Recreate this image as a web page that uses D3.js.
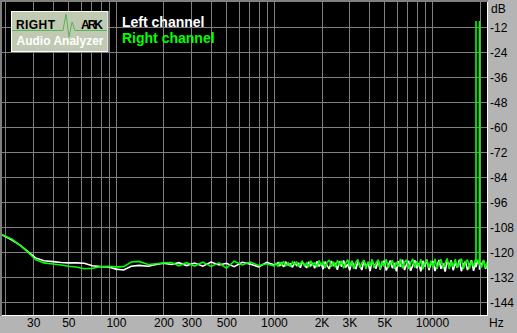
<!DOCTYPE html>
<html>
<head>
<meta charset="utf-8">
<script src="https://cdn.jsdelivr.net/npm/d3@7"></script>
<style>
  html, body { margin: 0; padding: 0; background: #b4b4b4; }
  svg { display: block; }
  text { font-family: "Liberation Sans", Arial, sans-serif; }
</style>
</head>
<body>
<div id="chart-area"></div>
<script>
// x grid (Hz) and labelled ticks
const gridFreqs = [20, 30, 40, 50, 60, 70, 80, 90, 100, 200, 300, 400, 500, 600, 700, 800, 900,
  1000, 2000, 3000, 4000, 5000, 6000, 7000, 8000, 9000, 10000, 20000];
const xTicks = [30, 50, 100, 200, 300, 500, 1000, 2000, 3000, 5000, 10000];
const xTickLabels = ["30", "50", "100", "200", "300", "500", "1000", "2K", "3K", "5K", "10000"];
const yTicks = [-12, -24, -36, -48, -60, -72, -84, -96, -108, -120, -132, -144];

// measurement points (Hz)
const freqs = [19, 22, 25, 28, 31, 35, 40, 45, 50, 56, 63, 71, 80, 90, 100, 112, 125, 140, 160, 180, 200,
  225, 250, 280, 315, 355, 400, 450, 500, 560, 630, 710, 800, 900, 1000,
  1030, 1060, 1090, 1120, 1150, 1190, 1230, 1270, 1310, 1350,
  1390, 1430, 1470, 1510, 1560, 1610, 1660, 1710, 1760, 1810,
  1870, 1930, 1990, 2050, 2110, 2170, 2240, 2310, 2380, 2450,
  2520, 2600, 2680, 2760, 2840, 2930, 3020, 3110, 3200, 3300,
  3400, 3500, 3600, 3710, 3820, 3940, 4060, 4180, 4300, 4430,
  4570, 4700, 4840, 4990, 5140, 5290, 5450, 5620, 5790, 5960,
  6140, 6320, 6510, 6710, 6910, 7120, 7330, 7550, 7780, 8010,
  8250, 8500, 8750, 9020, 9290, 9570, 9850, 10150, 10450, 10770,
  11090, 11420, 11770, 12120, 12480, 12860, 13240, 13640, 14050, 14470,
  14910, 15350, 15810, 16290, 16780, 17280, 17800, 18330, 18880,
  18990, 19000, 19010, 19450, 19990, 20000, 20010, 20600, 21220, 21850, 22400];

// left channel (dB)
const leftDb = [-111.6, -114.0, -116.7, -119.8, -122.6, -124.0, -124.4, -124.8, -125.0, -125.0, -125.2, -126.4, -126.8, -127.0, -128.0, -128.4, -126.6, -126.2, -126.6, -125.8, -125.2,
  -125.8, -124.9, -126.3, -125.1, -126.6, -124.6, -126.0, -125.2, -126.8, -124.7, -125.6, -126.9, -124.8, -125.9,
  -125.8, -124.9, -126.3, -125.2, -126.9, -124.7, -126.0, -125.4, -127.1, -124.9,
  -126.2, -125.0, -127.3, -124.6, -125.9, -127.4, -124.5, -126.4, -125.1, -127.6,
  -124.3, -126.7, -125.2, -128.0, -124.4, -126.3, -127.9, -124.1, -126.5, -125.0,
  -128.3, -124.2, -126.8, -123.9, -127.2, -125.5, -128.6, -124.0, -126.1, -127.9,
  -124.3, -126.4, -128.4, -123.8, -126.7, -125.2, -128.9, -124.1, -126.0, -127.7,
  -123.6, -128.2, -125.4, -124.0, -128.7, -126.1, -123.9, -127.5, -125.0, -129.0,
  -124.2, -126.9, -123.5, -128.4, -125.6, -124.1, -128.8, -126.3, -123.7, -127.6,
  -125.1, -129.1, -124.0, -126.8, -123.4, -128.5, -125.7, -124.2, -128.9, -126.0,
  -123.6, -127.8, -125.3, -129.2, -124.1, -126.5, -123.8, -128.6, -125.0, -127.3,
  -123.5, -129.0, -125.8, -124.3, -128.4, -126.2, -123.7, -128.8, -125.2,
  -126.0, -126.9, -127.0, -124.0, -125.0, -128.3, -126.4, -125.5, -123.9, -127.9, -125.1];

// right channel (dB)
const rightDb = [-111.4, -113.6, -116.8, -120.2, -123.4, -125.0, -125.5, -126.0, -126.6, -127.0, -127.8, -127.6, -126.8, -126.6, -126.9, -126.8, -124.6, -124.3, -125.8, -125.4, -125.0,
  -124.8, -126.4, -124.9, -126.5, -124.6, -126.7, -125.0, -127.6, -124.2, -126.0, -124.6, -126.3, -125.4, -126.5,
  -125.2, -126.6, -124.8, -125.9, -124.3, -126.4, -125.0, -126.8, -124.6, -125.7,
  -124.4, -126.9, -125.3, -124.2, -126.5, -125.1, -127.0, -124.0, -126.2, -124.8,
  -127.1, -123.9, -126.0, -124.3, -127.4, -124.8, -123.6, -126.8, -124.5, -127.2,
  -123.8, -126.1, -124.0, -127.6, -125.2, -123.5, -126.9, -124.2, -127.8, -124.6,
  -123.4, -127.3, -125.0, -123.7, -127.9, -124.4, -126.6, -123.3, -127.5, -124.9,
  -123.6, -127.8, -124.1, -126.9, -123.2, -127.4, -125.3, -123.8, -128.0, -124.5,
  -126.8, -123.1, -127.6, -124.7, -123.5, -127.9, -125.1, -123.0, -127.3, -124.2,
  -126.7, -123.3, -128.1, -124.8, -123.6, -127.5, -124.0, -126.9, -123.1, -127.8,
  -124.6, -123.4, -127.6, -125.2, -122.9, -127.9, -124.3, -126.8, -123.2, -127.4,
  -124.9, -123.0, -128.0, -124.5, -123.5, -127.7, -124.1, -126.6, -123.3,
  -125.0, -9.0, -124.2, -123.8, -126.0, -9.0, -125.5, -127.2, -123.6, -127.5, -124.4];

const chartSize = { width: 517, height: 333 };
const plot = { left: 2.3, right: 487.3, top: 2.3, bottom: 315 };

const svg = d3.select("#chart-area").append("svg")
  .attr("width", chartSize.width)
  .attr("height", chartSize.height);

const x = d3.scaleLog().domain([19.1, 22400]).range([plot.left, plot.right]);
const y = d3.scaleLinear().domain([-150, 0]).range([plot.bottom, plot.top]);

// frame
svg.append("rect").attr("x", 0).attr("y", 0).attr("width", chartSize.width).attr("height", chartSize.height).attr("fill", "#b4b4b4");
svg.append("rect").attr("x", 0).attr("y", 0).attr("width", 488).attr("height", 316).attr("fill", "#808080");
svg.append("rect").attr("x", 2).attr("y", 2).attr("width", 486).attr("height", 314).attr("fill", "#ffffff");
svg.append("rect").attr("x", 2).attr("y", 2).attr("width", 485).attr("height", 313).attr("fill", "#000000");

svg.append("defs").append("clipPath").attr("id", "clip")
  .append("rect").attr("x", 2).attr("y", 2).attr("width", 485).attr("height", 313);

const grid = svg.append("g").attr("class", "grid").attr("stroke", "#808080").attr("stroke-width", 1);
grid.selectAll(".vline").data(gridFreqs).join("line")
  .attr("x1", d => Math.round(x(d)) + 0.5).attr("x2", d => Math.round(x(d)) + 0.5)
  .attr("y1", 2).attr("y2", 315);
grid.selectAll(".hline").data(yTicks).join("line")
  .attr("y1", d => Math.round(y(d)) + 0.5).attr("y2", d => Math.round(y(d)) + 0.5)
  .attr("x1", 2).attr("x2", 487);

// curves
const line = d3.line().x((d, i) => x(freqs[i])).y(d => y(d));
const curves = svg.append("g").attr("clip-path", "url(#clip)").attr("fill", "none")
  .attr("stroke-width", 1.6).attr("stroke-linejoin", "miter").attr("stroke-miterlimit", 2);
curves.append("path").attr("d", line(leftDb)).attr("stroke", "#ffffff");
curves.append("path").attr("d", line(rightDb)).attr("stroke", "#00ff00");

// axes
const xAxis = d3.axisBottom(x).tickValues(xTicks).tickFormat((d, i) => xTickLabels[i]).tickSize(0).tickPadding(0);
svg.append("g").attr("transform", `translate(0, 318)`).call(xAxis)
  .call(g => g.select(".domain").remove())
  .selectAll("text").attr("font-size", 12).attr("fill", "#000").attr("dy", "0.71em")
  .attr("font-family", "Liberation Sans, Arial, sans-serif");

const yAxis = d3.axisRight(y).tickValues(yTicks).tickFormat(d => d).tickSize(0).tickPadding(0);
svg.append("g").attr("transform", `translate(490, 0)`).call(yAxis)
  .call(g => g.select(".domain").remove())
  .selectAll("text").attr("font-size", 12).attr("fill", "#000")
  .attr("font-family", "Liberation Sans, Arial, sans-serif");

svg.append("text").attr("x", 491).attr("y", 13).attr("font-size", 12).attr("fill", "#000").text("dB");
svg.append("text").attr("x", 489).attr("y", 327).attr("font-size", 12).attr("fill", "#000").text("Hz");

// legend
svg.append("text").attr("x", 122).attr("y", 27).attr("font-size", 14).attr("font-weight", "bold")
  .attr("fill", "#ffffff").text("Left channel");
svg.append("text").attr("x", 122).attr("y", 43).attr("font-size", 14).attr("font-weight", "bold")
  .attr("fill", "#00ff00").text("Right channel");

// logo
const logo = svg.append("g");
logo.append("rect").attr("x", 11.5).attr("y", 11.5).attr("width", 96.5).attr("height", 40)
  .attr("fill", "#c0c9b2").attr("stroke", "#ffffff").attr("stroke-width", 1);
logo.append("path").attr("d", "M12,30.5 H63 L66,14 L69,37 L72,22 L75,30.5 H107")
  .attr("fill", "none").attr("stroke", "#58b458").attr("stroke-width", 1);
logo.append("text").attr("x", 16).attr("y", 29).attr("font-size", 12).attr("font-weight", "bold")
  .attr("fill", "#000").attr("textLength", 39).text("RIGHT");
logo.append("text").attr("x", 81).attr("y", 29).attr("font-size", 12).attr("font-weight", "bold")
  .attr("fill", "#000").attr("textLength", 22).text("ARK");
logo.append("text").attr("x", 16.5).attr("y", 45).attr("font-size", 12).attr("font-weight", "bold")
  .attr("fill", "#ffffff").attr("textLength", 87).text("Audio Analyzer");
</script>
</body>
</html>
